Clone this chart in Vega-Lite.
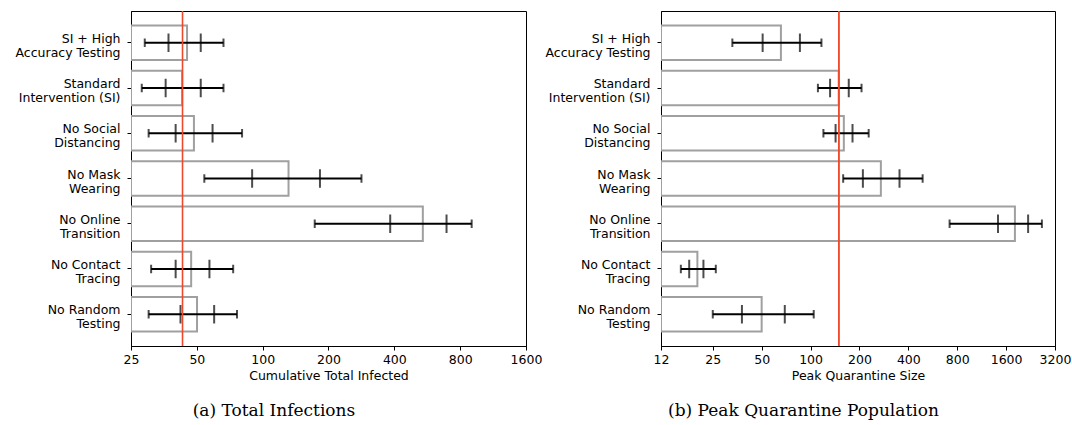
{
  "$schema": "https://vega.github.io/schema/vega-lite/v6.json",
  "padding": {"left": 5, "top": 9, "right": 2, "bottom": 2},
  "bounds": "flush",
  "spacing": 135,
  "config": {
    "font": "DejaVu Sans",
    "view": {"stroke": "black", "strokeWidth": 1},
    "axis": {
      "grid": false,
      "domainColor": "black",
      "tickColor": "black",
      "tickSize": 4,
      "labelFont": "DejaVu Sans",
      "labelFontSize": 12.5,
      "labelColor": "black",
      "titleFont": "DejaVu Sans",
      "titleFontSize": 12.5,
      "titleFontWeight": "normal",
      "titleColor": "black"
    },
    "axisY": {"labelPadding": 7, "labelLineHeight": 14, "labelAlign": "right", "labelBaseline": "middle", "labelOffset": -4, "minExtent": 125, "maxExtent": 125},
    "axisX": {"labelPadding": 3, "titlePadding": 4, "labelFlush": false, "labelOverlap": false},
    "title": {"font": "DejaVu Serif", "fontSize": 17, "fontWeight": "normal", "color": "black", "orient": "bottom", "anchor": "middle", "frame": "bounds", "offset": 21}
  },
  "datasets": {
    "infected": [
      {"scenario": "SI + High\nAccuracy Testing", "bar": 45.1, "lo": 28.9, "t1": 37.1, "t2": 52.1, "hi": 66.2},
      {"scenario": "Standard\nIntervention (SI)", "bar": 42.8, "lo": 28.0, "t1": 36.0, "t2": 52.1, "hi": 66.2},
      {"scenario": "No Social\nDistancing", "bar": 48.5, "lo": 30.1, "t1": 40.0, "t2": 59.0, "hi": 80.5},
      {"scenario": "No Mask\nWearing", "bar": 131.3, "lo": 54.1, "t1": 89.5, "t2": 182.8, "hi": 283},
      {"scenario": "No Online\nTransition", "bar": 540, "lo": 173, "t1": 383, "t2": 693, "hi": 903},
      {"scenario": "No Contact\nTracing", "bar": 47.1, "lo": 30.9, "t1": 40.0, "t2": 57.1, "hi": 73.3},
      {"scenario": "No Random\nTesting", "bar": 50.1, "lo": 30.1, "t1": 42.1, "t2": 60.0, "hi": 76.3}
    ],
    "quarantine": [
      {"scenario": "SI + High\nAccuracy Testing", "bar": 65.7, "lo": 33.0, "t1": 50.7, "t2": 86.0, "hi": 116.7},
      {"scenario": "Standard\nIntervention (SI)", "bar": 149, "lo": 111, "t1": 131.9, "t2": 171.9, "hi": 206},
      {"scenario": "No Social\nDistancing", "bar": 160.3, "lo": 120, "t1": 142.6, "t2": 181.3, "hi": 228},
      {"scenario": "No Mask\nWearing", "bar": 271, "lo": 158.8, "t1": 210, "t2": 353, "hi": 490},
      {"scenario": "No Online\nTransition", "bar": 1813, "lo": 718, "t1": 1426, "t2": 2186, "hi": 2658},
      {"scenario": "No Contact\nTracing", "bar": 20.1, "lo": 15.9, "t1": 17.9, "t2": 21.9, "hi": 26.1},
      {"scenario": "No Random\nTesting", "bar": 50, "lo": 25.0, "t1": 37.8, "t2": 69.4, "hi": 104.6}
    ]
  },
  "hconcat": [
    {
      "width": 395,
      "height": 335,
      "data": {"name": "infected"},
      "title": {"text": "(a) Total Infections"},
      "encoding": {
        "y": {
          "field": "scenario", "type": "nominal", "sort": null,
          "scale": {"paddingInner": 0.24, "paddingOuter": 0.322},
          "axis": {"title": null, "labelExpr": "split(datum.value, '\\n')"}
        }
      },
      "layer": [
        {
          "mark": {"type": "bar", "fill": "white", "stroke": "#a0a0a0", "strokeWidth": 2, "clip": true},
          "encoding": {
            "x": {"field": "bar", "type": "quantitative",
              "scale": {"type": "log", "base": 2, "domain": [25, 1600], "nice": false},
              "axis": {"title": "Cumulative Total Infected", "values": [25, 50, 100, 200, 400, 800, 1600], "format": "d"}},
            "x2": {"datum": 25}
          }
        },
        {
          "mark": {"type": "rule", "color": "black", "strokeWidth": 2},
          "encoding": {"x": {"field": "lo", "type": "quantitative"}, "x2": {"field": "hi"}}
        },
        {
          "mark": {"type": "tick", "color": "black", "thickness": 2, "size": 8.5},
          "encoding": {"x": {"field": "lo", "type": "quantitative"}}
        },
        {
          "mark": {"type": "tick", "color": "black", "thickness": 2, "size": 8.5},
          "encoding": {"x": {"field": "hi", "type": "quantitative"}}
        },
        {
          "mark": {"type": "tick", "color": "black", "thickness": 2, "size": 18.5},
          "encoding": {"x": {"field": "t1", "type": "quantitative"}}
        },
        {
          "mark": {"type": "tick", "color": "black", "thickness": 2, "size": 18.5},
          "encoding": {"x": {"field": "t2", "type": "quantitative"}}
        },
        {
          "mark": {"type": "rule", "color": "#f0482a", "strokeWidth": 1.1},
          "encoding": {"x": {"datum": 43}, "y": null}
        }
      ]
    },
    {
      "width": 394,
      "height": 335,
      "data": {"name": "quarantine"},
      "title": {"text": "(b) Peak Quarantine Population"},
      "encoding": {
        "y": {
          "field": "scenario", "type": "nominal", "sort": null,
          "scale": {"paddingInner": 0.24, "paddingOuter": 0.322},
          "axis": {"title": null, "labelExpr": "split(datum.value, '\\n')"}
        }
      },
      "layer": [
        {
          "mark": {"type": "bar", "fill": "white", "stroke": "#a0a0a0", "strokeWidth": 2, "clip": true},
          "encoding": {
            "x": {"field": "bar", "type": "quantitative",
              "scale": {"type": "log", "base": 2, "domain": [12, 3200], "nice": false},
              "axis": {"title": "Peak Quarantine Size", "values": [12, 25, 50, 100, 200, 400, 800, 1600, 3200], "format": "d"}},
            "x2": {"datum": 12}
          }
        },
        {
          "mark": {"type": "rule", "color": "black", "strokeWidth": 2},
          "encoding": {"x": {"field": "lo", "type": "quantitative"}, "x2": {"field": "hi"}}
        },
        {
          "mark": {"type": "tick", "color": "black", "thickness": 2, "size": 8.5},
          "encoding": {"x": {"field": "lo", "type": "quantitative"}}
        },
        {
          "mark": {"type": "tick", "color": "black", "thickness": 2, "size": 8.5},
          "encoding": {"x": {"field": "hi", "type": "quantitative"}}
        },
        {
          "mark": {"type": "tick", "color": "black", "thickness": 2, "size": 18.5},
          "encoding": {"x": {"field": "t1", "type": "quantitative"}}
        },
        {
          "mark": {"type": "tick", "color": "black", "thickness": 2, "size": 18.5},
          "encoding": {"x": {"field": "t2", "type": "quantitative"}}
        },
        {
          "mark": {"type": "rule", "color": "#f0482a", "strokeWidth": 1.1},
          "encoding": {"x": {"datum": 149}, "y": null}
        }
      ]
    }
  ]
}
